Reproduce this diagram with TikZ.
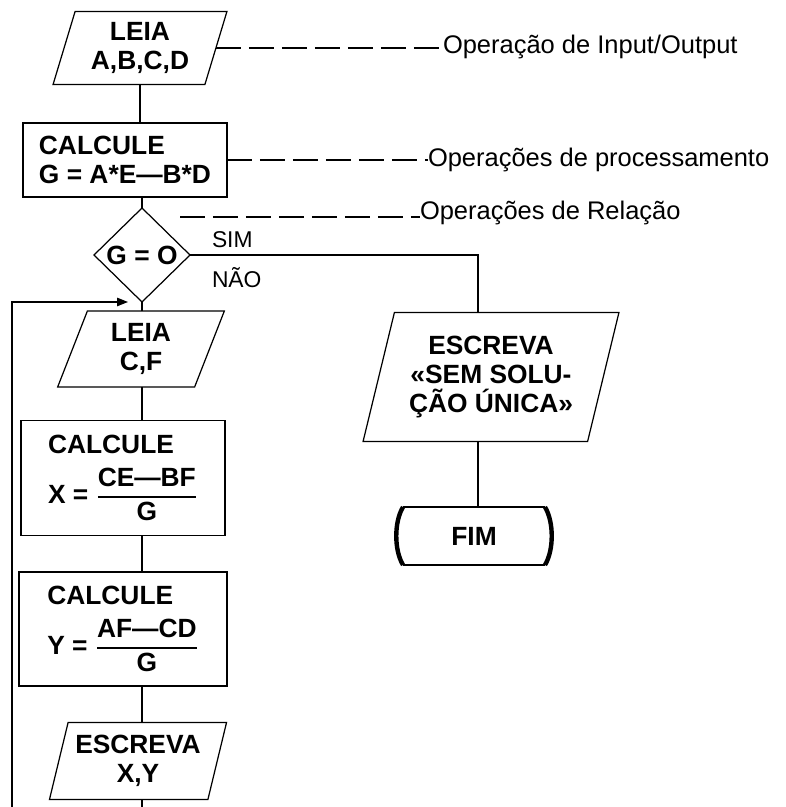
\documentclass[tikz,border=0pt]{standalone}
\usepackage{fontspec}
\usepackage{amsmath}
\setmainfont{Liberation Sans}
\usetikzlibrary{arrows.meta,positioning,shapes.geometric,calc}
\newcommand{\boxfont}{\fontsize{15}{16.5}\selectfont\bfseries}
\newcommand{\notefont}{\fontsize{14.5}{16}\selectfont}
\newcommand{\quoc}[2]{$\genfrac{}{}{0.8pt}{0}{\text{#1}}{\text{#2}}$}

\begin{document}
\begin{tikzpicture}[x=0.02cm, y=-0.02cm,
    line width=0.7pt,
    every node/.style={inner sep=0pt, outer sep=0pt},
    io/.style={draw, trapezium, trapezium left angle=72, trapezium right angle=108,
               trapezium stretches=true, align=center, font=\boxfont},
    proc/.style={draw, rectangle, align=left, font=\boxfont},
    decision/.style={draw, diamond, font=\boxfont, minimum width=1.92cm, minimum height=1.88cm},
    term/.style={font=\boxfont, minimum width=2.84cm, minimum height=1.16cm},
    note/.style={anchor=west, font=\notefont},
    branch/.style={anchor=west, font=\fontsize{13}{15}\selectfont},
    guide/.style={dash pattern=on 0.5cm off 0.16cm, line width=0.6pt},
    loop/.style={-{Triangle[length=2.2mm,width=1.7mm]}},
]
    \useasboundingbox (0,0) rectangle (786,807);

    % main column
    \node[io, minimum width=3.5cm, minimum height=1.46cm] (leia1) at (140,48) {LEIA\\A,B,C,D};
    \node[proc, minimum width=4.08cm, minimum height=1.48cm] (calcG) at (125,160) {CALCULE\\G = A*E—B*D};
    \node[decision] (dec) at (142,255) {G = O};
    \node[io, minimum width=3.34cm, minimum height=1.52cm] (leia2) at (141,349) {LEIA\\C,F};
    \node[proc, minimum width=4.08cm, minimum height=2.3cm] (calcX) at (123,478) {CALCULE\\[7pt]X = \quoc{CE—BF}{G}};
    \node[proc, minimum width=4.16cm, minimum height=2.28cm] (calcY) at (123,629) {CALCULE\\[7pt]Y = \quoc{AF—CD}{G}};
    \node[io, minimum width=3.56cm, minimum height=1.54cm] (escxy) at (138,761) {ESCREVA\\X,Y};

    % right branch
    \node[io, minimum width=5.12cm, minimum height=2.58cm] (escsem) at (491,377) {ESCREVA\\«SEM SOLU-\\ÇÃO ÚNICA»};
    \node[term] (fim) at (474,536) {FIM};

    % labels
    \node[note] (lblio) at (443,47) {Operação de Input/Output};
    \node[note] (lblproc) at (428,160) {Operações de processamento};
    \node[note] (lblrel) at (420,213) {Operações de Relação};
    \coordinate (relstart) at (180,217);
    \node[branch] (sim) at (212,240) {SIM};
    \node[branch] (nao) at (212,278) {NÃO};

    \coordinate (flowend) at (142,807);
    \coordinate (loopL) at (12,807);

    % connectors
    \draw (leia1.south) -- (leia1.south |- calcG.north);
    \draw (dec.north |- calcG.south) -- (dec.north);
    \draw (dec.south) -- (leia2.north -| dec.south);
    \draw (dec.south |- leia2.south) -- (dec.south |- calcX.north);
    \draw (dec.south |- calcX.south) -- (dec.south |- calcY.north);
    \draw (dec.south |- calcY.south) -- (dec.south |- escxy.north);
    \draw (dec.south |- escxy.south) -- (flowend);
    \draw[loop] (loopL) |- ($(dec.south)+(-14,0)$);
    \draw (dec.east) -| ($(escsem.north)+(-13,0)$);
    \draw ($(escsem.south)+(-13,0)$) coordinate (essout) -- (essout |- fim.north);

    % FIM
    \draw (fim.north west) -- (fim.north east);
    \draw (fim.south west) -- (fim.south east);
    \draw[line width=2.5pt] (fim.north west) .. controls +(-9,15) and +(-9,-15) .. (fim.south west);
    \draw[line width=2.5pt] (fim.north east) .. controls +(9,15) and +(9,-15) .. (fim.south east);

    % dashed guides
    \draw[guide] (leia1.east) -- (leia1.east -| lblio.west);
    \draw[guide] (calcG.east) -- (lblproc.west);
    \draw[guide] (relstart) -- (relstart -| lblrel.west);
\end{tikzpicture}
\end{document}
